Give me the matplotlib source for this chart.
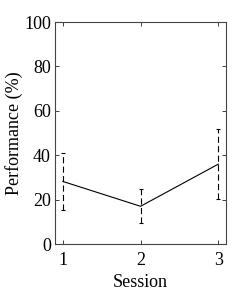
import numpy as np
import matplotlib.pyplot as plt

sessions = [1, 2, 3]
performance = [28.2, 17.0, 36.0]
errors = [13.0, 7.6, 15.7]

plt.rcParams['font.family'] = ['Liberation Serif', 'DejaVu Serif']
plt.rcParams['font.size'] = 13

fig = plt.figure(figsize=(2.49, 2.91), dpi=100)
ax = fig.add_axes([0.221, 0.1615, 0.687, 0.7625])

ax.plot(sessions, performance, color='k', lw=0.8)
eb = ax.errorbar(sessions, performance, yerr=errors, fmt='none', ecolor='k',
                 elinewidth=0.8, capsize=1.5, capthick=0.8)
eb[2][0].set_linestyle((0, (5.5, 3)))

ax.set_xlim(0.9, 3.1)
ax.set_ylim(0, 100)
ax.set_xticks(sessions)
ax.set_yticks(np.arange(0, 101, 20))
ax.tick_params(direction='in', top=True, right=True, length=3, width=0.6,
               colors='#222222', labelcolor='k', pad=3)
ax.tick_params(axis='x', pad=6)
for s in ax.spines.values():
    s.set_linewidth(0.8)
    s.set_color('#444444')

ax.set_xlabel('Session', labelpad=3)
ax.set_ylabel('Performance (%)', labelpad=1)

fig.savefig('out.png', dpi=100)
